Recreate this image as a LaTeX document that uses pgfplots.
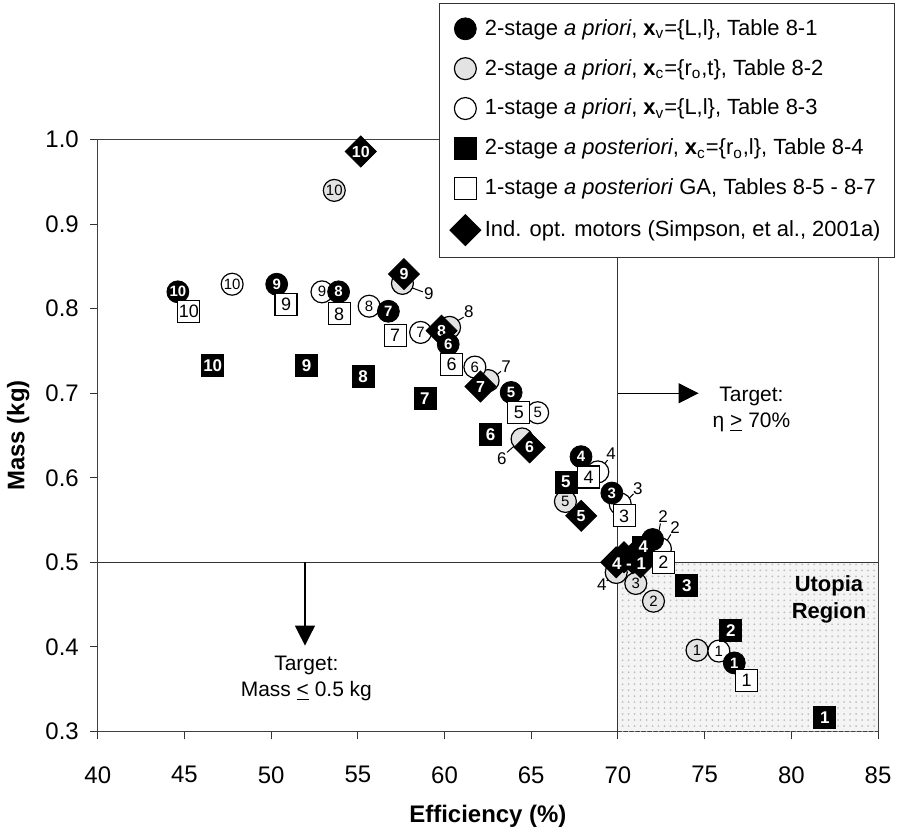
\documentclass[border=0pt]{standalone}
\usepackage{fontspec}
\setmainfont{Liberation Sans}
\usepackage{pgfplots}
\pgfplotsset{compat=1.18}
\usetikzlibrary{patterns,arrows.meta}

\pgfplotsset{
  mk/.style={only marks,
    legend image code/.code={\draw[mark repeat=2,mark phase=2,##1] plot coordinates {(0pt,0pt)(5.5pt,0pt)(11pt,0pt)};}},
  pa/.style={mk,mark=*,mark size=5.5pt,mark options={draw=black,fill=black}},
  pb/.style={mk,mark=*,mark size=5.5pt,mark options={draw=black,fill=gray!22,line width=0.6pt}},
  pc/.style={mk,mark=*,mark size=5.5pt,mark options={draw=black,fill=white,line width=0.6pt}},
  pd/.style={mk,mark=square*,mark size=5.5pt,mark options={draw=black,fill=black}},
  pe/.style={mk,mark=square*,mark size=5.5pt,mark options={draw=black,fill=white,line width=0.6pt}},
  pf/.style={mk,mark=square*,mark size=5.5pt,mark options={draw=black,fill=black,rotate=45}},
  numb/.style={nodes near coords,point meta=explicit symbolic,
    nodes near coords style={anchor=center,inner sep=0pt,text=black,font=\fontsize{#1}{#1}\selectfont}},
  numw/.style={nodes near coords,point meta=explicit symbolic,
    nodes near coords style={anchor=center,inner sep=0pt,text=white,font=\fontsize{#1}{#1}\selectfont\bfseries}},
}

\begin{document}
\begin{tikzpicture}
\begin{axis}[
  scale only axis, width=391pt, height=296.5pt,
  xmin=40, xmax=85, ymin=0.3, ymax=1.0,
  xtick={40,45,50,55,60,65,70,75,80,85},
  ytick={0.3,0.4,0.5,0.6,0.7,0.8,0.9,1.0},
  /pgf/number format/assume math mode=true,
  yticklabel style={xshift=-2pt,/pgf/number format/fixed,/pgf/number format/fixed zerofill,/pgf/number format/precision=1},
  tick label style={font=\fontsize{12}{14}\selectfont},
  xticklabel style={yshift=-10pt},
  tick align=outside, xtick pos=bottom, ytick pos=left,
  major tick length=4pt,
  tick style={black!80,line width=0.5pt},
  axis line style={black!75,line width=0.5pt},
  xlabel={\textbf{Efficiency (\%)}},
  ylabel={\textbf{Mass (kg)}},
  label style={font=\fontsize{12}{14}\selectfont},
  xlabel style={at={(axis description cs:0.5,-0.143)},anchor=center},
  ylabel style={at={(axis description cs:-0.102,0.5)},anchor=center},
  clip=false,
  legend style={at={(1.0217,1.231)},anchor=north east,draw=black!80,fill=white,
    font=\fontsize{11}{13}\selectfont,row sep=6.5pt,inner xsep=5pt,inner ysep=6pt,
    cells={anchor=west}},
]
\addlegendimage{pa}
\addlegendentry{2-stage \textit{a priori}, \textbf{x}\textsubscript{v}=\{L,l\}, Table 8-1}
\addlegendimage{pb}
\addlegendentry{2-stage \textit{a priori}, \textbf{x}\textsubscript{c}=\{r\textsubscript{o},t\}, Table 8-2}
\addlegendimage{pc}
\addlegendentry{1-stage \textit{a priori}, \textbf{x}\textsubscript{v}=\{L,l\}, Table 8-3}
\addlegendimage{pd}
\addlegendentry{2-stage \textit{a posteriori}, \textbf{x}\textsubscript{c}=\{r\textsubscript{o},l\}, Table 8-4}
\addlegendimage{pe}
\addlegendentry{1-stage \textit{a posteriori} GA, Tables 8-5 - 8-7}
\addlegendimage{pf}
\addlegendentry{Ind. opt. motors (Simpson, et al., 2001a)}

% utopia region and target lines
\fill[gray!9] (axis cs:70,0.3) rectangle (axis cs:85,0.5);
\fill[pattern=dots,pattern color=gray!50] (axis cs:70,0.3) rectangle (axis cs:85,0.5);
\draw[black!80,line width=0.5pt] (axis cs:40,0.5) -- (axis cs:85,0.5);
\draw[black!80,line width=0.5pt] (axis cs:70,0.3) -- (axis cs:70,1.0);

% leader labels for hidden points
\begin{scope}[line width=0.5pt,every node/.style={font=\fontsize{8.5}{9}\selectfont,inner sep=0pt}]
\draw (axis cs:57.95,0.826) -- (axis cs:58.75,0.820); \node at (axis cs:59.1,0.818) {9};
\draw (axis cs:60.6,0.784) -- (axis cs:61.1,0.790); \node at (axis cs:61.4,0.796) {8};
\draw (axis cs:62.85,0.719) -- (axis cs:63.25,0.726); \node at (axis cs:63.55,0.731) {7};
\draw (axis cs:64.2,0.641) -- (axis cs:63.6,0.630); \node at (axis cs:63.3,0.623) {6};
\draw (axis cs:69.1,0.613) -- (axis cs:69.4,0.621); \node at (axis cs:69.6,0.628) {4};
\draw (axis cs:70.45,0.572) -- (axis cs:70.9,0.581); \node at (axis cs:71.15,0.587) {3};
\draw (axis cs:72.3,0.530) -- (axis cs:72.45,0.546); \node at (axis cs:72.6,0.554) {2};
\draw (axis cs:72.66,0.520) -- (axis cs:73.05,0.533); \node at (axis cs:73.3,0.541) {2};
\draw (axis cs:69.75,0.486) -- (axis cs:69.35,0.478); \node at (axis cs:69.07,0.473) {4};
\end{scope}

% 2-stage a priori x_c (grey circles)
\addplot[pb,forget plot] table[row sep=\\] {x y\\ 57.57 0.830\\ 60.29 0.778\\ 62.51 0.715\\ 64.47 0.646\\ 69.9 0.488\\};
\addplot[pb,numb=7.5,forget plot] table[meta=l,row sep=\\] {x y l\\ 53.64 0.940 10\\ 66.97 0.572 5\\ 71.03 0.475 3\\ 72.05 0.454 2\\ 74.56 0.396 1\\};
% 1-stage a priori x_v (white circles)
\addplot[pc,forget plot] table[row sep=\\] {x y\\ 68.84 0.607\\ 70.13 0.569\\ 72.45 0.516\\};
\addplot[pc,numb=7.5,forget plot] table[meta=l,row sep=\\] {x y l\\ 47.75 0.829 10\\ 52.93 0.820 9\\ 55.65 0.803 8\\ 58.62 0.772 7\\ 61.75 0.731 6\\ 65.37 0.677 5\\ 75.82 0.395 1\\};
% individually optimised motors (diamonds)
\addplot[pf,forget plot] table[row sep=\\] {x y\\ 69.9 0.500\\ 70.35 0.506\\ 70.85 0.505\\ 71.3 0.500\\};
\addplot[pf,numw=8,forget plot] table[meta=l,row sep=\\] {x y l\\ 55.17 0.986 10\\ 57.66 0.841 9\\ 59.83 0.774 8\\ 62.07 0.708 7\\ 64.91 0.636 6\\ 67.88 0.555 5\\};
% 2-stage a priori x_v (black circles)
\addplot[pa,forget plot] table[row sep=\\] {x y\\ 72.0 0.527\\};
\addplot[pa,numw=7.5,forget plot] table[meta=l,row sep=\\] {x y l\\ 44.62 0.820 10\\ 50.32 0.829 9\\ 53.89 0.820 8\\ 56.76 0.797 7\\ 60.21 0.758 6\\ 63.84 0.701 5\\ 67.87 0.625 4\\ 69.65 0.582 3\\ 76.71 0.381 1\\};
% 2-stage a posteriori (black squares)
\addplot[pd,numw=8.5,forget plot] table[meta=l,row sep=\\] {x y l\\ 46.63 0.733 10\\ 52.04 0.733 9\\ 55.30 0.720 8\\ 58.87 0.694 7\\ 62.65 0.651 6\\ 67.0 0.595 5\\ 71.47 0.518 4\\ 73.97 0.4725 3\\ 76.51 0.4195 2\\ 81.93 0.316 1\\};
% 1-stage a posteriori GA (white squares)
\addplot[pe,numb=9,forget plot] table[meta=l,row sep=\\] {x y l\\ 45.25 0.797 10\\ 50.86 0.805 9\\ 53.92 0.794 8\\ 57.15 0.768 7\\ 60.41 0.734 6\\ 64.28 0.677 5\\ 68.31 0.601 4\\ 70.36 0.555 3\\ 72.62 0.500 2\\ 77.42 0.3605 1\\};
% shared label of motors 4-1
\addplot[draw=none,numw=8.5,forget plot] coordinates {(70.64,0.498) [4 - 1]};

% target annotations
\draw[line width=0.6pt,-{Triangle[length=10pt,width=10pt]}] (axis cs:70,0.7) -- (axis cs:74.65,0.7);
\node[align=center,font=\fontsize{10.5}{13.3}\selectfont] at (axis cs:77.7,0.681) {Target:\\η \underline{>} 70\%};
\draw[line width=0.6pt,-{Triangle[length=10pt,width=10pt]}] (axis cs:51.95,0.5) -- (axis cs:51.95,0.4015);
\node[align=center,font=\fontsize{10.5}{13.3}\selectfont] at (axis cs:52.03,0.3625) {Target:\\Mass \underline{<} 0.5 kg};
\node[align=center,font=\fontsize{11}{13.5}\selectfont\bfseries] at (axis cs:82.17,0.456) {Utopia\\Region};

\path (rel axis cs:-0.1253,-0.1686) rectangle (rel axis cs:1.023,1.2361);
\end{axis}
\end{tikzpicture}
\end{document}
